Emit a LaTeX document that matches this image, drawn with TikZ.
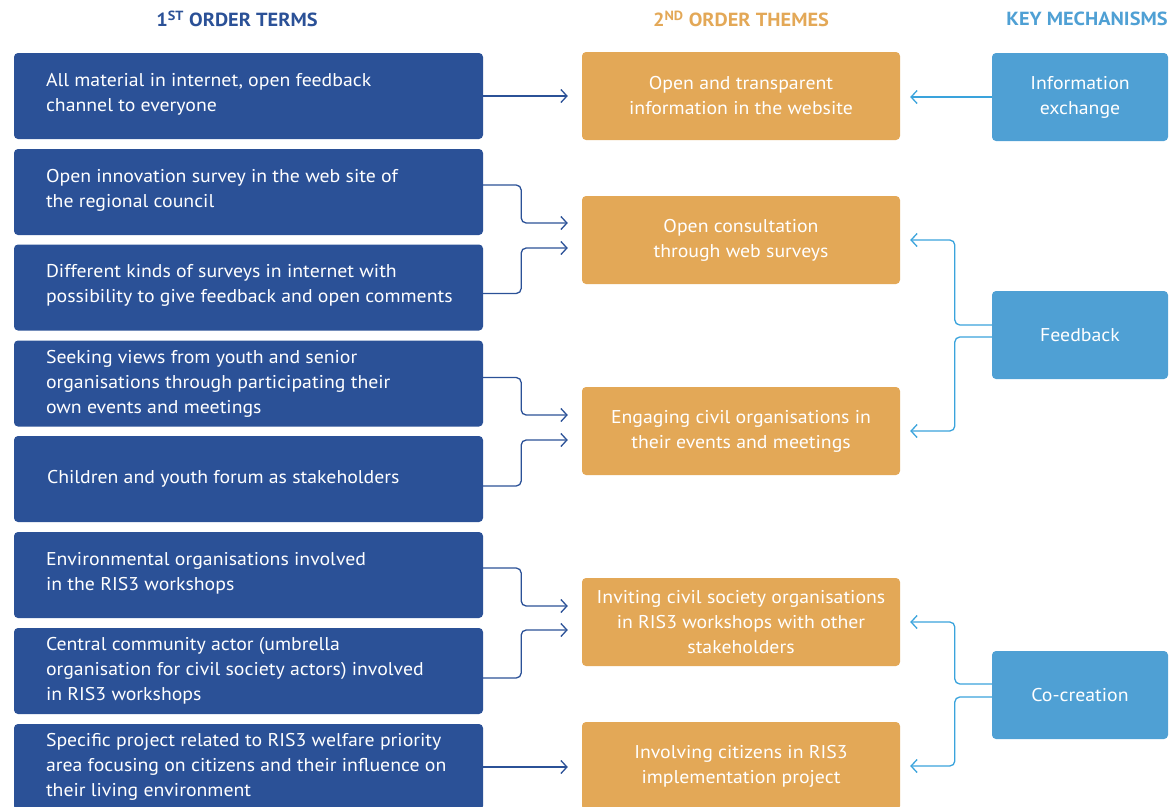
\documentclass[tikz,border=0pt]{standalone}
\usepackage{fontspec}
\setmainfont[FakeStretch=1.07]{PT Sans}
\usetikzlibrary{arrows.meta}
\definecolor{dblue}{HTML}{2B5197}
\definecolor{orng}{HTML}{E3A857}
\definecolor{lblue}{HTML}{4FA0D4}
\definecolor{abluel}{HTML}{3AA3DC}
\begin{document}
\begin{tikzpicture}[x=1pt,y=1pt,
  txt/.style={font=\fontsize{18.5}{25}\selectfont, text=white, inner sep=0pt},
  lbox/.style={fill=dblue, rounded corners=4pt, minimum width=469pt, minimum height=86pt, inner sep=0pt},
  ltext/.style={txt, align=left, anchor=west},
  obox/.style={fill=orng, rounded corners=4pt, minimum width=318pt, minimum height=88pt, txt, align=center},
  bbox/.style={fill=lblue, rounded corners=4pt, minimum width=176pt, minimum height=88pt, txt, align=center},
  hdr/.style={font=\fontsize{19}{22}\selectfont\bfseries, inner sep=0pt},
  darr/.style={draw=dblue, line width=1.3pt, rounded corners=5pt, -{Straight Barb[length=6pt,width=13pt]}, shorten >=14pt},
  barr/.style={draw=abluel, line width=1.3pt, rounded corners=5pt, -{Straight Barb[length=6pt,width=13pt]}, shorten >=10pt}
]
\useasboundingbox (0,0) rectangle (1169,-806);
\clip (0,0) rectangle (1169,-806);
% headers
\node[hdr, text=dblue] (h1) at (237,-19) {1\textsuperscript{ST} ORDER TERMS};
\node[hdr, text=orng] (h2) at (741,-19) {2\textsuperscript{ND} ORDER THEMES};
\node[hdr, text=lblue] (h3) at (1087,-19) {KEY MECHANISMS};
% left boxes
\node[lbox] (l1) at (248.5,-96) {};
\node[lbox] (l2) at (248.5,-192) {};
\node[lbox] (l3) at (248.5,-287.5) {};
\node[lbox] (l4) at (248.5,-383.5) {};
\node[lbox] (l5) at (248.5,-479) {};
\node[lbox] (l6) at (248.5,-575) {};
\node[lbox] (l7) at (248.5,-671) {};
\node[lbox] (l8) at (248.5,-767) {};
\node[ltext] (t1) at ([xshift=32pt,yshift=2pt]l1.west) {All material in internet, open feedback\\channel to everyone};
\node[ltext] (t2) at ([xshift=32pt,yshift=2pt]l2.west) {Open innovation survey in the web site of\\the regional council};
\node[ltext] (t3) at ([xshift=32pt,yshift=2pt]l3.west) {Different kinds of surveys in internet with\\possibility to give feedback and open comments};
\node[ltext] (t4) at ([xshift=32pt,yshift=0pt]l4.west) {Seeking views from youth and senior\\organisations through participating their\\own events and meetings};
\node[ltext] (t5) at ([xshift=33pt,yshift=0pt]l5.west) {Children and youth forum as stakeholders};
\node[ltext] (t6) at ([xshift=32pt,yshift=2pt]l6.west) {Environmental organisations involved\\in the RIS3 workshops};
\node[ltext] (t7) at ([xshift=32pt,yshift=0pt]l7.west) {Central community actor (umbrella\\organisation for civil society actors) involved\\in RIS3 workshops};
\node[ltext] (t8) at ([xshift=32pt,yshift=0pt]l8.west) {Specific project related to RIS3 welfare priority\\area focusing on citizens and their influence on\\their living environment};
% middle boxes
\node[obox] (A) at (741,-96) {Open and transparent\\information in the website};
\node[obox] (B) at (741,-240) {Open consultation\\through web surveys};
\node[obox] (C) at (741,-431) {Engaging civil organisations in\\their events and meetings};
\node[obox] (D) at (741,-622) {Inviting civil society organisations\\in RIS3 workshops with other\\stakeholders};
\node[obox] (E) at (741,-766) {Involving citizens in RIS3\\implementation project};
% right boxes
\node[bbox] (info) at (1080,-97) {Information\\exchange};
\node[bbox] (fb) at (1080,-335) {Feedback};
\node[bbox] (cc) at (1080,-695) {Co-creation};
% left connectors
\draw[darr] (l1.east) -- (l1.east -| A.west);
\draw[darr] ([yshift=7pt]l2.east) -- ++(38,0) |- ([yshift=17pt]B.west);
\draw[darr] ([yshift=-6pt]l3.east) -- ++(38,0) |- ([yshift=-8pt]B.west);
\draw[darr] ([yshift=6pt]l4.east) -- ++(38,0) |- ([yshift=16pt]C.west);
\draw[darr] ([yshift=-7pt]l5.east) -- ++(38,0) |- ([yshift=-9pt]C.west);
\draw[darr] ([yshift=7pt]l6.east) -- ++(38,0) |- ([yshift=16pt]D.west);
\draw[darr] ([yshift=-7pt]l7.east) -- ++(38,0) |- ([yshift=-8pt]D.west);
\draw[darr] (l8.east) -- (l8.east -| E.west);
% right connectors
\draw[barr] (info.west) -- (info.west -| A.east);
\draw[barr] ([yshift=10pt]fb.west) -- ++(-37,0) |- (B.east);
\draw[barr] ([yshift=-2pt]fb.west) -- ++(-37,0) |- (C.east);
\draw[barr] ([yshift=11pt]cc.west) -- ++(-37,0) |- (D.east);
\draw[barr] ([yshift=-2pt]cc.west) -- ++(-37,0) |- (E.east);
\end{tikzpicture}
\end{document}
